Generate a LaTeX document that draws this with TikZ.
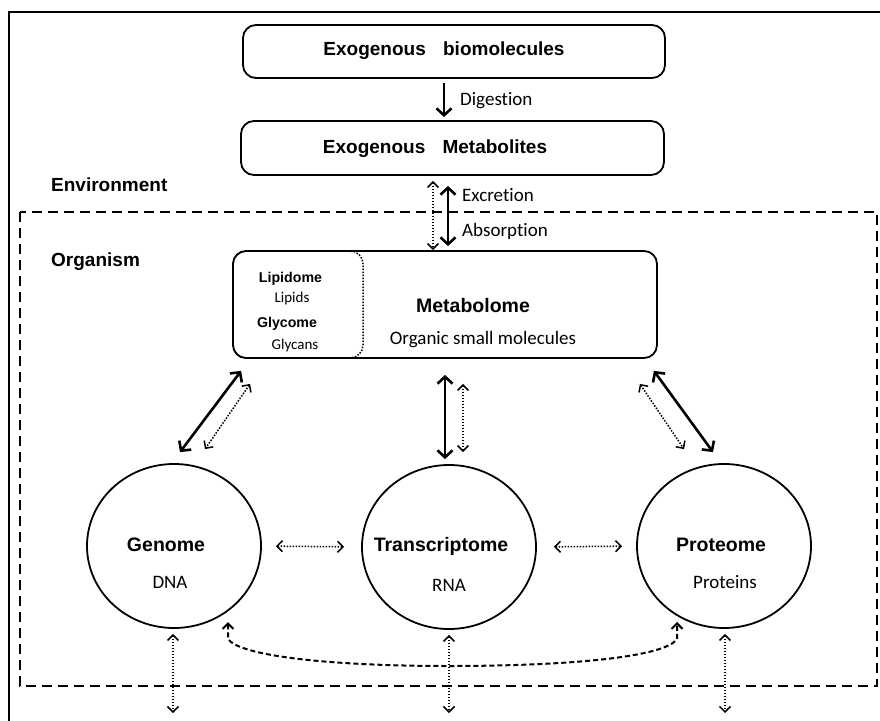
\documentclass[tikz,border=0pt]{standalone}
\usepackage{fontspec}
\setmainfont{Carlito}[Ligatures=NoCommon]
\newfontfamily\arialf{Liberation Sans}
\usetikzlibrary{arrows.meta,shapes.geometric}
\begin{document}
\begin{tikzpicture}[x=1pt,y=-1pt,
  box/.style={draw,line width=1.8pt,rounded corners=13pt,inner sep=0pt},
  ell/.style={draw,ellipse,line width=1.8pt,minimum width=174pt,minimum height=164pt,inner sep=0pt},
  titlef/.style={font=\arialf\bfseries\fontsize{19}{22}\selectfont,inner sep=0pt},
  bigt/.style={font=\arialf\bfseries\fontsize{19.5}{22}\selectfont,inner sep=0pt},
  smallt/.style={font=\arialf\bfseries\fontsize{14.2}{16}\selectfont,inner sep=0pt},
  lab/.style={font=\fontsize{19}{22}\selectfont,inner sep=0pt},
  slab/.style={font=\fontsize{15}{17}\selectfont,inner sep=0pt},
  solidarr/.style={line width=2.6pt,{Straight Barb[length=7pt,width=15pt]}-{Straight Barb[length=7pt,width=15pt]}},
  solidone/.style={line width=2.6pt,-{Straight Barb[length=7pt,width=15pt]}},
  dotarr/.style={line width=1.5pt,dash pattern=on 1.5pt off 1.5pt,{Straight Barb[length=5.5pt,width=11pt]}-{Straight Barb[length=5.5pt,width=11pt]}},
  dasharr/.style={line width=2pt,dash pattern=on 5pt off 3pt,{Straight Barb[length=5.5pt,width=11pt]}-{Straight Barb[length=5.5pt,width=11pt]}}
]
\useasboundingbox (0,0) rectangle (880,720);
\clip (0,0) rectangle (880,720);
% outer frame
\draw[line width=1.8pt] (9,730) -- (9,12) -- (890,12);
% organism dashed box
\draw[line width=1.3pt,dash pattern=on 10pt off 6pt] (20,212) rectangle (877,686);

% top boxes
\node[box,minimum width=422pt,minimum height=53pt] (exbio) at (454,51.5) {};
\node[titlef] (exbiot) at (444,51) {Exogenous\hspace{12pt} biomolecules};
\node[box,minimum width=423pt,minimum height=54pt] (exmet) at (452.5,148) {};
\node[titlef] (exmett) at (435,149) {Exogenous\hspace{12pt} Metabolites};

\node[titlef,anchor=west] (env) at (51,185) {Environment};
\node[titlef,anchor=west] (org) at (51,262) {Organism};

% metabolome
\draw[line width=1.5pt,dash pattern=on 1.5pt off 1.5pt,rounded corners=13pt] (233,251) -- (363,251) -- (363,358) -- (233,358) -- cycle;
\node[box,minimum width=424pt,minimum height=107pt] (metab) at (445,304.5) {};
\node[smallt] (lipi) at (290.5,279) {Lipidome};
\node[slab] (lipis) at (292,298) {Lipids};
\node[smallt] (glyc) at (287,324) {Glycome};
\node[slab] (glycs) at (295,345) {Glycans};
\node[bigt] (metabt) at (473,306) {Metabolome};
\node[lab] (metabs) at (483,340) {Organic small molecules};

% digestion
\draw[solidone,shorten <=4pt,shorten >=3pt] ([xshift=-10pt]exbio.south) -- ([xshift=-8.5pt]exmet.north);
\node[lab,anchor=west] (dig) at (460,101) {Digestion};

% excretion / absorption
\draw[solidarr,shorten <=10pt,shorten >=4pt] ([xshift=-4.5pt]exmet.south) -- ([xshift=3pt]metab.north);
\draw[dotarr,shorten <=5pt] ([xshift=-19.5pt]exmet.south) -- ([xshift=-12pt]metab.north);
\node[lab,anchor=west] (exc) at (462,195) {Excretion};
\node[lab,anchor=west] (abs) at (462,231) {Absorption};

% ellipses
\node[ell] (genome) at (174,546) {};
\node[ell] (trans) at (449,547) {};
\node[ell] (prot) at (724,546) {};
\node[bigt] (genomet) at (166,545) {Genome};
\node[lab] (dna) at (170,582) {DNA};
\node[bigt] (transt) at (441,546) {Transcriptome};
\node[lab] (rna) at (449,585) {RNA};
\node[bigt] (prott) at (721,545) {Proteome};
\node[lab] (protein) at (725,582) {Proteins};

% metabolome to omics
\draw[solidarr] ([shift={(9,12)}]metab.south west) -- ([shift={(6,-11)}]genome.north);
\draw[dotarr] ([shift={(18,25)}]metab.south west) -- ([shift={(31,-14)}]genome.north);
\draw[solidarr] ([shift={(0,16)}]metab.south) -- ([shift={(-4,-5)}]trans.north);
\draw[dotarr] ([shift={(18,25)}]metab.south) -- ([shift={(14,-12)}]trans.north);
\draw[solidarr] ([shift={(-4,12)}]metab.south east) -- ([shift={(-11,-11)}]prot.north);
\draw[dotarr] ([shift={(-18,25)}]metab.south east) -- ([shift={(-40,-14)}]prot.north);

% horizontal
\draw[dotarr,shorten <=14pt,shorten >=17pt] (genome.east) -- (trans.west);
\draw[dotarr,shorten <=17pt,shorten >=14pt] (trans.east) -- (prot.west);

% dashed curve genome <-> proteome
\draw[dasharr] ([shift={(54,76)}]genome.center) -- ++(0,17) .. controls (240,656) and (330,666) .. (449,666) .. controls (570,666) and (665,657) .. ([shift={(-47,93)}]prot.center) -- ([shift={(-47,76)}]prot.center);

% bottom outgoing arrows
\coordinate (gout) at (173,713);
\coordinate (tout) at (449,713);
\coordinate (pout) at (725,713);
\draw[dotarr,shorten <=5pt] ([xshift=-1pt]genome.south) -- (gout);
\draw[dotarr,shorten <=5pt] ([yshift=0pt]trans.south) -- (tout);
\draw[dotarr,shorten <=5pt] ([xshift=1pt]prot.south) -- (pout);
\end{tikzpicture}
\end{document}
